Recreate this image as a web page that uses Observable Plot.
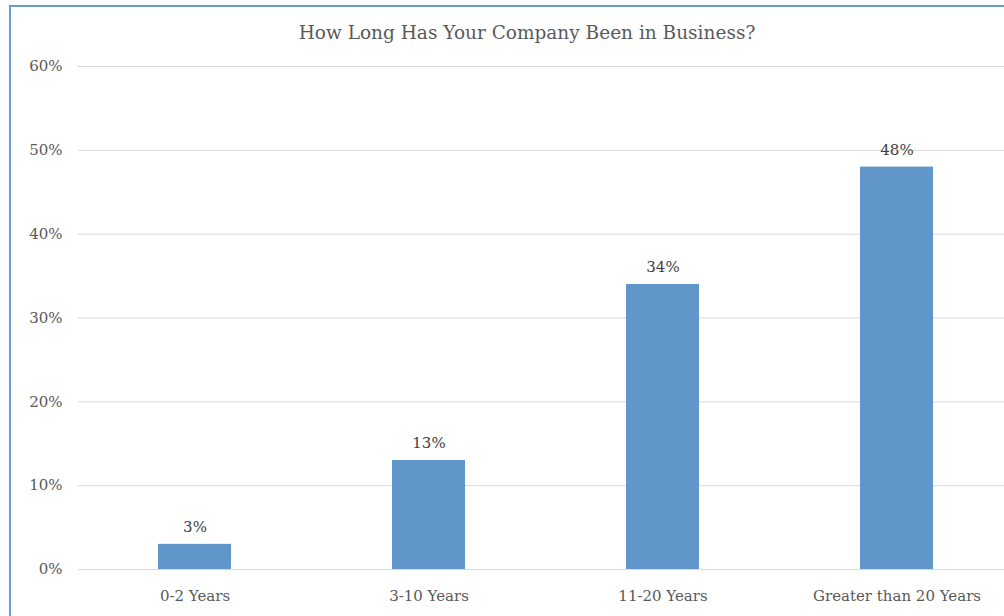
<!DOCTYPE html>
<html>
<head>
<meta charset="utf-8">
<script src="https://cdn.jsdelivr.net/npm/d3@7"></script>
<script src="https://cdn.jsdelivr.net/npm/@observablehq/plot@0.6"></script>
<style>
  html, body { margin: 0; padding: 0; background: #fff; overflow: hidden; width: 1004px; height: 616px; }
  #frame { position: absolute; left: 9px; top: 5px; width: 1200px; height: 800px;
           border-left: 2.5px solid #6a9bd2; border-top: 2.5px solid #6a9bd2; box-sizing: border-box; }
  #title { position: absolute; left: 0; top: 20px; width: 1054px; text-align: center;
           font-family: "DejaVu Serif", serif; font-size: 18.5px; color: #595959; line-height: 26px; }
  #chart { position: absolute; left: 0; top: 0; }
</style>
</head>
<body>
<div id="frame"></div>
<div id="title">How Long Has Your Company Been in Business?</div>
<div id="chart"></div>
<script>
const categories = ["0-2 Years", "3-10 Years", "11-20 Years", "Greater than 20 Years"];
const values = [3, 13, 34, 48];
const yTicks = [0, 10, 20, 30, 40, 50, 60];

const data = categories.map((c, i) => ({category: c, value: values[i]}));

const chart = Plot.plot({
  width: 1004,
  height: 616,
  marginTop: 66,
  marginBottom: 47,
  marginLeft: 78,
  marginRight: 0,
  style: {fontFamily: "DejaVu Serif, serif", fontSize: "15px", color: "#595959", background: "transparent", overflow: "visible"},
  x: {domain: categories, range: [76, 1014], paddingInner: 0.69, paddingOuter: 0.345, label: null},
  y: {domain: [0, 60], label: null},
  marks: [
    Plot.ruleY(yTicks, {stroke: "#d9d9d9", strokeWidth: 1}),
    Plot.barY(data, {x: "category", y: "value", fill: "#6096c9"}),
    Plot.text(data, {x: "category", y: "value", text: d => d.value + "%", dy: -17, fill: "#404040", fontSize: 15}),
    Plot.axisY({ticks: yTicks, tickFormat: d => d + "%", tickSize: 0, tickPadding: 16, label: null, fill: "#595959", fontSize: 15}),
    Plot.axisX({tickSize: 0, tickPadding: 21, label: null, fill: "#595959", fontSize: 15})
  ]
});
document.getElementById("chart").appendChild(chart);
</script>
</body>
</html>
